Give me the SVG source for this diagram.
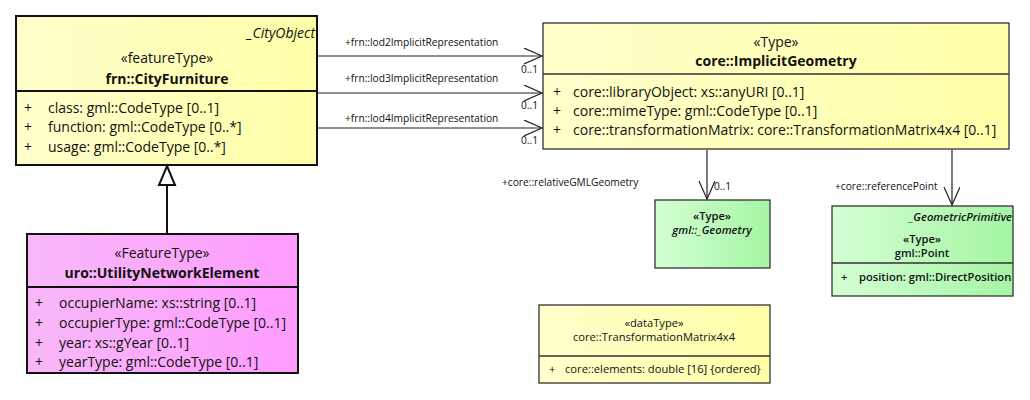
<svg xmlns="http://www.w3.org/2000/svg" width="1030" height="400" viewBox="0 0 1030 400">
  <defs>
    <linearGradient id="gYellow" x1="0" y1="0" x2="1" y2="0">
      <stop offset="0" stop-color="#FFFFCC"/>
      <stop offset="1" stop-color="#FFFFA8"/>
    </linearGradient>
    <linearGradient id="gPink" x1="0" y1="0" x2="1" y2="0">
      <stop offset="0" stop-color="#F8B8F8"/>
      <stop offset="1" stop-color="#FF9CFF"/>
    </linearGradient>
    <linearGradient id="gGreen" x1="0" y1="0" x2="1" y2="0">
      <stop offset="0" stop-color="#D4FFD4"/>
      <stop offset="1" stop-color="#A4F5A4"/>
    </linearGradient>
    <marker id="open" markerWidth="20" markerHeight="20" refX="18" refY="8" orient="auto" markerUnits="userSpaceOnUse">
      <path d="M0,0 L18,8 L0,16" fill="none" stroke="#222" stroke-width="1.2"/>
    </marker>
  </defs>
  <style>
    text { font-family: "Open Sans", "Noto Sans", "DejaVu Sans", sans-serif; fill: #111; }
    .t13 { font-size: 14px; }
    .t11 { font-size: 11.2px; }
    .role { font-size: 10.2px; }
    .b { font-weight: bold; }
    .sb { font-weight: 600; }
    .i { font-style: italic; }
    .mid { text-anchor: middle; }
    .end { text-anchor: end; }
    .thick { stroke: #111; stroke-width: 2; }
    .thin { stroke: #333; stroke-width: 1.3; }
    .conn { stroke: #222; stroke-width: 1.2; fill: none; }
  </style>

  <!-- frn::CityFurniture -->
  <g id="CityFurniture">
    <rect x="16" y="16" width="301" height="149" fill="url(#gYellow)" class="thick"/>
    <line x1="16" y1="91" x2="317" y2="91" class="thick"/>
    <text x="315" y="38" class="t13 i end">_CityObject</text>
    <text x="167" y="63" class="t13 mid">«featureType»</text>
    <text x="167" y="84" class="t13 b mid">frn::CityFurniture</text>
    <text x="24" y="113" class="t13">+</text>
    <text x="48" y="113" class="t13">class: gml::CodeType [0..1]</text>
    <text x="24" y="132" class="t13">+</text>
    <text x="48" y="132" class="t13">function: gml::CodeType [0..*]</text>
    <text x="24" y="152" class="t13">+</text>
    <text x="48" y="152" class="t13">usage: gml::CodeType [0..*]</text>
  </g>

  <!-- uro::UtilityNetworkElement -->
  <g id="UtilityNetworkElement">
    <rect x="27" y="234" width="271" height="139" fill="url(#gPink)" class="thick"/>
    <line x1="27" y1="287" x2="298" y2="287" class="thick"/>
    <text x="162" y="258" class="t13 mid">«FeatureType»</text>
    <text x="162" y="278" class="t13 b mid">uro::UtilityNetworkElement</text>
    <text x="35" y="308" class="t13">+</text>
    <text x="59" y="308" class="t13">occupierName: xs::string [0..1]</text>
    <text x="35" y="328" class="t13">+</text>
    <text x="59" y="328" class="t13">occupierType: gml::CodeType [0..1]</text>
    <text x="35" y="348" class="t13">+</text>
    <text x="59" y="348" class="t13">year: xs::gYear [0..1]</text>
    <text x="35" y="367" class="t13">+</text>
    <text x="59" y="367" class="t13">yearType: gml::CodeType [0..1]</text>
  </g>

  <!-- core::ImplicitGeometry -->
  <g id="ImplicitGeometry">
    <rect x="543" y="23" width="466" height="126" fill="url(#gYellow)" class="thin"/>
    <line x1="543" y1="74" x2="1009" y2="74" class="thin"/>
    <text x="776" y="47" class="t13 mid">«Type»</text>
    <text x="776" y="66" class="t13 b mid">core::ImplicitGeometry</text>
    <text x="553" y="97" class="t13">+</text>
    <text x="573" y="97" class="t13">core::libraryObject: xs::anyURI [0..1]</text>
    <text x="553" y="116" class="t13">+</text>
    <text x="573" y="116" class="t13">core::mimeType: gml::CodeType [0..1]</text>
    <text x="553" y="135" class="t13">+</text>
    <text x="573" y="135" class="t13">core::transformationMatrix: core::TransformationMatrix4x4 [0..1]</text>
  </g>

  <!-- gml::_Geometry -->
  <g id="Geometry">
    <rect x="655" y="200" width="115" height="68" fill="url(#gGreen)" class="thin"/>
    <text x="712" y="220" class="t11 sb mid">«Type»</text>
    <text x="712" y="234" class="t11 sb i mid">gml::_Geometry</text>
  </g>

  <!-- gml::Point -->
  <g id="Point">
    <rect x="832" y="206" width="181" height="90" fill="url(#gGreen)" class="thin"/>
    <line x1="832" y1="263" x2="1013" y2="263" class="thin"/>
    <text x="1012" y="221" class="t11 sb i end">_GeometricPrimitive</text>
    <text x="922" y="243" class="t11 sb mid">«Type»</text>
    <text x="922" y="257" class="t11 sb mid">gml::Point</text>
    <text x="841" y="281" class="t11 sb">+</text>
    <text x="859" y="281" class="t11 sb">position: gml::DirectPosition</text>
  </g>

  <!-- core::TransformationMatrix4x4 -->
  <g id="TransformationMatrix4x4">
    <rect x="539" y="305" width="231" height="78" fill="url(#gYellow)" class="thin"/>
    <line x1="539" y1="356" x2="770" y2="356" class="thin"/>
    <text x="654" y="327" class="t11 mid">«dataType»</text>
    <text x="654" y="341" class="t11 mid">core::TransformationMatrix4x4</text>
    <text x="549" y="373" class="t11">+</text>
    <text x="565" y="373" class="t11">core::elements: double [16] {ordered}</text>
  </g>

  <!-- associations and generalization -->
  <g id="connectors">
    <line x1="167" y1="185" x2="167" y2="233" class="thick"/>
    <path d="M167,166 L175,185 L159,185 Z" fill="#fff" stroke="#111" stroke-width="2" stroke-linejoin="miter"/>

    <line x1="318" y1="56" x2="542" y2="56" class="conn" marker-end="url(#open)"/>
    <text x="345" y="46" class="role">+frn::lod2ImplicitRepresentation</text>
    <text x="521" y="73" class="role">0..1</text>

    <line x1="318" y1="93" x2="542" y2="93" class="conn" marker-end="url(#open)"/>
    <text x="345" y="82" class="role">+frn::lod3ImplicitRepresentation</text>
    <text x="521" y="109" class="role">0..1</text>

    <line x1="318" y1="128" x2="542" y2="128" class="conn" marker-end="url(#open)"/>
    <text x="345" y="122" class="role">+frn::lod4ImplicitRepresentation</text>
    <text x="521" y="144" class="role">0..1</text>

    <line x1="707" y1="150" x2="707" y2="199" class="conn" marker-end="url(#open)"/>
    <text x="502" y="186" class="role">+core::relativeGMLGeometry</text>
    <text x="714" y="190" class="role">0..1</text>

    <line x1="952" y1="150" x2="952" y2="205" class="conn" marker-end="url(#open)"/>
    <text x="835" y="190" class="role">+core::referencePoint</text>
  </g>
</svg>
